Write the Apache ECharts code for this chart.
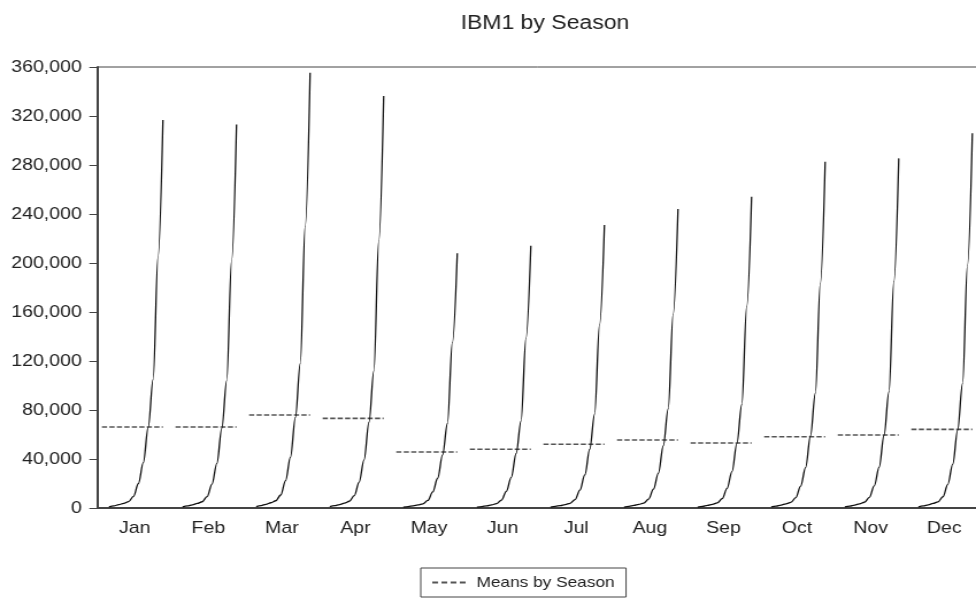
<!DOCTYPE html>
<html>
<head>
<meta charset="utf-8">
<script src="https://cdn.jsdelivr.net/npm/echarts@6/dist/echarts.min.js"></script>
<style>
html,body{margin:0;padding:0;background:#fff;overflow:hidden;width:976px;height:600px}
#c{width:849px;height:600px;transform:scaleX(1.1496);transform-origin:0 0}
</style>
</head>
<body>
<div id="c"></div>
<script>
const months = ['Jan','Feb','Mar','Apr','May','Jun','Jul','Aug','Sep','Oct','Nov','Dec'];
const yTicks = [0,40000,80000,120000,160000,200000,240000,280000,320000,360000];
// yearly values per season
const jan = [1000,1800,2700,3800,5200,9500,20000,37000,66000,105000,205000,316700];
const feb = [1000,1700,2600,3700,5100,9300,19500,36500,65000,104000,202000,313000];
const mar = [1100,2000,3000,4300,5900,10600,22400,41500,74000,118000,230000,355300];
const apr = [1100,1900,2800,4000,5500,10100,21200,39300,70000,112000,218000,336300];
const may = [700,1200,1800,2500,3400,6200,13100,24300,43300,69000,135000,208000];
const jun = [700,1200,1800,2600,3500,6400,13500,25000,44500,71000,138500,214000];
const jul = [750,1300,2000,2800,3800,6900,14600,27000,48000,76700,149500,231000];
const aug = [800,1400,2100,2900,4000,7300,15400,28500,50800,81000,158000,244000];
const sep = [800,1400,2200,3000,4200,7600,16000,29700,52800,84300,164300,254000];
const oct = [900,1600,2400,3400,4600,8500,17800,33000,58800,93800,183000,282700];
const nov = [900,1600,2400,3400,4700,8600,18000,33400,59400,94700,184700,285400];
const dec = [1000,1700,2600,3700,5000,9200,19300,35800,63600,101500,198000,305900];
const seasonMeans = [66100,66100,75900,73200,45700,48000,52000,55500,53100,58200,59600,64200];

const seasons = [jan,feb,mar,apr,may,jun,jul,aug,sep,oct,nov,dec];
const curveStart = 0.15, curveEnd = 0.883, meanStart = 0.054;
const FONT = 'Liberation Sans, Arial, sans-serif';

const series = [];
seasons.forEach((vals, k) => {
  const step = (curveEnd - curveStart) / (vals.length - 1);
  series.push({
    name: months[k], type: 'line', xAxisIndex: 1, yAxisIndex: 0,
    data: vals.map((v, j) => [k + curveStart + j * step, v]),
    symbol: 'none', smooth: 0.35, smoothMonotone: 'x',
    lineStyle: {color: '#111', width: 1.3}, silent: true, z: 3
  });
});
const meanData = [];
seasonMeans.forEach((m, k) => {
  meanData.push([k + meanStart, m], [k + curveEnd, m], [k + 0.95, '-']);
});
series.push({
  name: 'Means by Season', type: 'line', xAxisIndex: 1, yAxisIndex: 0,
  data: meanData, symbol: 'none', connectNulls: false,
  lineStyle: {color: '#555', width: 1.6, type: [4.5, 2]}, itemStyle: {color: '#555'}, z: 2
});

const chart = echarts.init(document.getElementById('c'), null, {renderer: 'canvas'});
chart.setOption({
  animation: false,
  backgroundColor: '#fff',
  title: {text: 'IBM1 by Season', left: 469, top: 8, textAlign: 'center',
    textStyle: {fontFamily: FONT, fontSize: 20, fontWeight: 'normal', color: '#222'}},
  grid: {left: 85.2, top: 67, width: 768.1, height: 441, show: true, borderColor: '#444', borderWidth: 1,
    containLabel: false, outerBoundsMode: 'none'},
  legend: {
    data: [{name: 'Means by Season', icon: 'path://M0,0h5v2h-5z M8,0h5v2h-5z M16,0h5v2h-5z M24,0h5v2h-5z'}],
    left: 366, top: 568, itemWidth: 34, itemHeight: 2, itemGap: 6,
    padding: [7, 10, 7, 10], borderColor: '#444', borderWidth: 1, borderRadius: 0,
    textStyle: {fontFamily: FONT, fontSize: 15, color: '#222', padding: [0, 0, 0, 2]},
    selectedMode: false
  },
  xAxis: [
    {type: 'category', data: months, boundaryGap: true, gridIndex: 0,
      axisLine: {lineStyle: {color: '#444', width: 2}}, axisTick: {show: false},
      axisLabel: {fontFamily: FONT, fontSize: 17, color: '#222', margin: 12},
      splitLine: {show: false}},
    {type: 'value', min: 0, max: 12, show: false, gridIndex: 0}
  ],
  yAxis: [{
    type: 'value', min: yTicks[0], max: yTicks[yTicks.length - 1], interval: 40000,
    axisLine: {show: true, lineStyle: {color: '#444', width: 2}},
    axisTick: {show: true, length: 7.5, lineStyle: {color: '#444'}},
    axisLabel: {fontFamily: FONT, fontSize: 17, color: '#222', margin: 14,
      formatter: v => v.toLocaleString('en-US')},
    splitLine: {show: false}
  }],
  series: series
});
</script>
</body>
</html>
